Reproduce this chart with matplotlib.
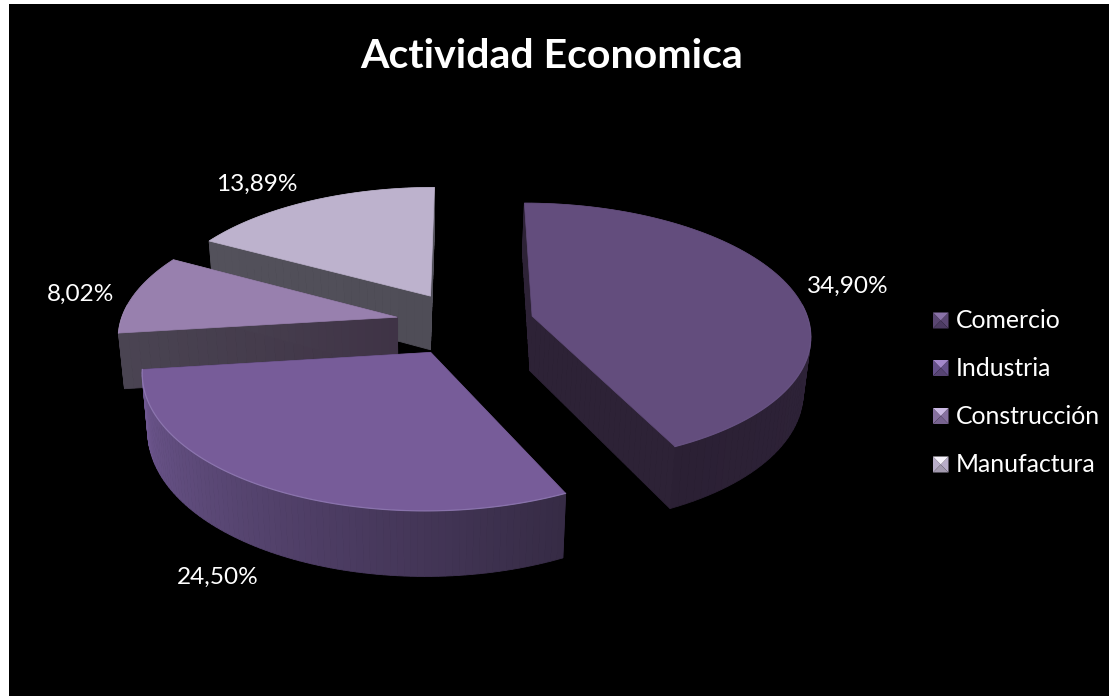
import numpy as np
import matplotlib
matplotlib.use("Agg")
import matplotlib.pyplot as plt
from matplotlib.colors import to_rgb
from matplotlib.patches import Polygon, Rectangle

# Chart data
categories = ["Comercio", "Industria", "Construcción", "Manufactura"]
shares = [34.90, 24.50, 8.02, 13.89]

# Face colours
top_colors = ["#634d7d", "#775c99", "#9880ae", "#bdb2cd"]
rim_colors = ["#6f5a8c", "#a08cc4", "#a48fba", "#c8bed6"]
arc_wall_colors = [("#33273f", "#2b2034"), ("#362b45", "#6f5891"),
                   ("#453e4c", "#453e4c"), ("#52505a", "#52505a")]
edge_wall_colors = [("#2d2236", "#2d2236"), ("#352a44", "#352a44"),
                    ("#4a4452", "#3f3346"), ("#53515b", "#4f4d57")]
legend_faces = [("#8a72a8", "#5a4672", "#4c3b62"), ("#a488cc", "#65508a", "#574473"),
                ("#ccbae4", "#86709f", "#77638f"), ("#f6f2fb", "#b8adc8", "#a39aaf")]

EXPLODE = 0.25

# Perspective camera for the tilted disc
VANISH_X, VANISH_Y = 465.0, -670.0
DEPTH_0, DEPTH_1 = 1.00685e-3, 1.3127e-4
X_SCALE = 0.279
# Extrusion towards the lower plane of the disc
DROP_Y = 0.0555
DROP_X, DROP_X_CENTER = 0.0197, 423.0


def project(gx, gy):
    d = DEPTH_0 + DEPTH_1 * np.asarray(gy, float)
    return VANISH_X + X_SCALE * np.asarray(gx, float) / d, VANISH_Y + 1.0 / d


def extrude(x, y):
    return x + DROP_X * (DROP_X_CENTER - x), y + DROP_Y * (y - VANISH_Y)


def mix(a, b, t):
    a, b = np.array(to_rgb(a)), np.array(to_rgb(b))
    return tuple(a + (b - a) * t)


def shaded_wall(ax, xs, ys, c0, c1, z):
    """Draw an extruded strip as quads, shading along its length."""
    bx, by = extrude(xs, ys)
    n = len(xs) - 1
    for i in range(n):
        col = mix(c0, c1, i / max(n - 1, 1))
        ax.add_patch(Polygon([(xs[i], ys[i]), (xs[i + 1], ys[i + 1]),
                              (bx[i + 1], by[i + 1]), (bx[i], by[i])],
                             closed=True, facecolor=col, edgecolor=col, lw=0.6, zorder=z))


fig = plt.figure(figsize=(11.09, 6.96), dpi=100, facecolor="white")
ax = fig.add_axes([0, 0, 1, 1])
ax.set_xlim(0, 1109)
ax.set_ylim(696, 0)
ax.axis("off")
ax.add_patch(Rectangle((9, 4), 1100, 692, facecolor="black", edgecolor="none", zorder=0))

plt.rcParams["font.family"] = ["Lato", "DejaVu Sans"]

total = sum(shares)
edges = np.concatenate([[0], np.cumsum(shares)]) / total * 2 * np.pi

# Paint from the back of the disc to the front
for order, idx in enumerate([3, 2, 1, 0]):
    z = 2 + order * 3
    a0, a1 = edges[idx], edges[idx + 1]
    mid = (a0 + a1) / 2
    ox, oy = EXPLODE * np.sin(mid), EXPLODE * np.cos(mid)
    theta = np.linspace(a0, a1, 90)
    arc_x, arc_y = project(ox + np.sin(theta), oy + np.cos(theta))
    ap_x, ap_y = project(ox, oy)

    # The rim sits behind the cut faces unless it looks towards the viewer
    arc_z = z + 1 if np.cos(mid) < 0 else z
    edge_z = z if np.cos(mid) < 0 else z + 1

    for a in (a0, a1):
        t = np.linspace(0, 1, 30)
        ex, ey = project(ox + t * np.sin(a), oy + t * np.cos(a))
        c0, c1 = edge_wall_colors[idx]
        shaded_wall(ax, ex, ey, c1, c0, edge_z)

    shaded_wall(ax, arc_x, arc_y, *arc_wall_colors[idx], arc_z)

    poly = np.column_stack([np.r_[ap_x, arc_x], np.r_[ap_y, arc_y]])
    ax.add_patch(Polygon(poly, closed=True, facecolor=top_colors[idx],
                         edgecolor=top_colors[idx], lw=0.5, zorder=z + 2))
    # Soft highlight on the part of the rim facing the viewer
    front = np.cos(theta) < 0.1
    ax.plot(arc_x[front], arc_y[front], color=rim_colors[idx], lw=0.9, alpha=0.55, zorder=z + 2)

    # Percentage label for the slice
    label = f"{shares[idx]:.2f}".replace(".", ",") + "%"
    lx, ly = [(848, 286), (218, 577), (80.5, 294), (256.5, 184)][idx]
    ax.text(lx, ly, label, color="white", fontsize=17.6, ha="center", va="center", zorder=20)

ax.text(552, 56, "Actividad Economica", color="white", fontsize=29.5, fontweight="bold",
        ha="center", va="center", zorder=20)

# Legend with bevelled swatches
legend_y = [320.5, 368, 416, 464.5]
for name, ym, (light, mid, dark) in zip(categories, legend_y, legend_faces):
    x0, x1, y0, y1 = 933, 948.5, ym - 8, ym + 8
    cx, cy = (x0 + x1) / 2, ym
    ax.add_patch(Polygon([(x0, y0), (x0, y1), (cx, cy)], facecolor=mid, edgecolor="none", zorder=20))
    ax.add_patch(Polygon([(x1, y0), (x1, y1), (cx, cy)], facecolor=mid, edgecolor="none", zorder=20))
    ax.add_patch(Polygon([(x0, y1), (x1, y1), (cx, cy)], facecolor=dark, edgecolor="none", zorder=20))
    ax.add_patch(Polygon([(x0, y0), (x1, y0), (cx, cy)], facecolor=light, edgecolor="none", zorder=20))
    ax.text(956, ym + 0.5, name, color="white", fontsize=17.8, ha="left", va="center", zorder=20)

fig.savefig("out.png", dpi=100, facecolor="white")
